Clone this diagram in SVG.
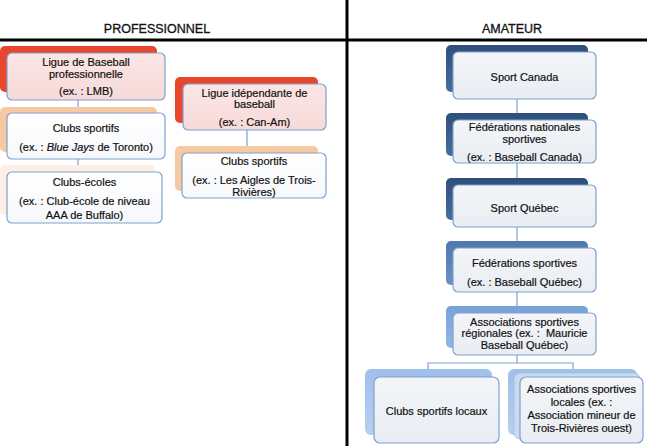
<svg xmlns="http://www.w3.org/2000/svg" width="647" height="446" viewBox="0 0 647 446">
<defs>
<linearGradient id="gPink" x1="0" y1="0" x2="0" y2="1"><stop offset="0" stop-color="#fbe6e5"/><stop offset="1" stop-color="#f6dad9"/></linearGradient>
<linearGradient id="gWhite" x1="0" y1="0" x2="0" y2="1"><stop offset="0" stop-color="#ffffff"/><stop offset="1" stop-color="#f6f8fb"/></linearGradient>
<linearGradient id="gGray" x1="0" y1="0" x2="0" y2="1"><stop offset="0" stop-color="#f3f5f8"/><stop offset="1" stop-color="#e9edf3"/></linearGradient>
<linearGradient id="gNavy" x1="0" y1="0" x2="0" y2="1"><stop offset="0" stop-color="#2f4f7b"/><stop offset="1" stop-color="#4a6d9b"/></linearGradient>
<linearGradient id="gMid" x1="0" y1="0" x2="0" y2="1"><stop offset="0" stop-color="#4f78ae"/><stop offset="1" stop-color="#6b90c2"/></linearGradient>
<linearGradient id="gLight" x1="0" y1="0" x2="0" y2="1"><stop offset="0" stop-color="#76a2da"/><stop offset="1" stop-color="#94b7e3"/></linearGradient>
<linearGradient id="gPale" x1="0" y1="0" x2="0" y2="1"><stop offset="0" stop-color="#9fc0ea"/><stop offset="1" stop-color="#b7cfee"/></linearGradient>
</defs>
<style>
.front{stroke:#7da1cf;stroke-width:1.2}
.red{fill:#e8472d}
.peach{fill:#f7c9a2}
.paleP{fill:#fdefe5}
.t{font-family:"Liberation Sans",Arial,sans-serif;font-size:11px;fill:#111;stroke:#111;stroke-width:0.2;text-anchor:middle}
.h{font-family:"Liberation Sans",Arial,sans-serif;font-size:12.5px;fill:#111;stroke:#111;stroke-width:0.3;text-anchor:middle}
.c{stroke:#7da1cf;stroke-width:1.2;fill:none}
.div{stroke:#000;stroke-width:3}
</style>
<rect width="647" height="446" fill="#ffffff"/>
<g id="dividers">
<line class="div" x1="0" y1="40" x2="647" y2="40"/>
<line class="div" x1="347" y1="0" x2="347" y2="446"/>
</g>
<g id="headers">
<text class="h" x="157" y="33">PROFESSIONNEL</text>
<text class="h" x="512" y="33">AMATEUR</text>
</g>
<g id="connectors">
<line class="c" x1="78" y1="100" x2="78" y2="107"/>
<line class="c" x1="78" y1="159" x2="78" y2="165"/>
<line class="c" x1="247" y1="130" x2="247" y2="146"/>
<line class="c" x1="517" y1="99" x2="517" y2="113"/>
<line class="c" x1="517" y1="163" x2="517" y2="178"/>
<line class="c" x1="517" y1="227" x2="517" y2="241"/>
<line class="c" x1="517" y1="292" x2="517" y2="306"/>
<polyline class="c" points="517,355 517,363"/>
<polyline class="c" points="428,369 428,363 573,363 573,369"/>
</g>
<g id="n1">
<rect class="red" x="0" y="46" width="157" height="46" rx="5"/>
<rect class="front" x="7" y="53" width="158" height="47" rx="5" fill="url(#gPink)"/>
<text class="t" x="86" y="66">Ligue de Baseball</text>
<text class="t" x="86" y="78">professionnelle</text>
<text class="t" x="86" y="95">(ex. : LMB)</text>
</g>
<g id="n2">
<rect class="peach" x="0" y="107" width="157" height="45" rx="5"/>
<rect class="front" x="7" y="113" width="158" height="46" rx="5" fill="url(#gWhite)"/>
<text class="t" x="86" y="132">Clubs sportifs</text>
<text class="t" x="86" y="151">(ex. : <tspan font-style="italic">Blue Jays</tspan> de Toronto)</text>
</g>
<g id="n3">
<rect class="paleP" x="0" y="165" width="155" height="50" rx="5"/>
<rect class="front" x="7" y="172" width="155" height="51" rx="5" fill="url(#gWhite)"/>
<text class="t" x="84.5" y="186">Clubs-écoles</text>
<text class="t" x="84.5" y="205">(ex. : Club-école de niveau</text>
<text class="t" x="84.5" y="219">AAA de Buffalo)</text>
</g>
<g id="n4">
<rect class="red" x="175" y="77" width="143" height="46" rx="5"/>
<rect class="front" x="183" y="84" width="143" height="46" rx="5" fill="url(#gPink)"/>
<text class="t" x="254.5" y="97">Ligue idépendante de</text>
<text class="t" x="254.5" y="108">baseball</text>
<text class="t" x="254.5" y="126">(ex. : Can-Am)</text>
</g>
<g id="n5">
<rect class="peach" x="175" y="146" width="143" height="45" rx="5"/>
<rect class="front" x="182" y="153" width="144" height="45" rx="5" fill="url(#gWhite)"/>
<text class="t" x="254" y="165">Clubs sportifs</text>
<text class="t" x="254" y="184">(ex. : Les Aigles de Trois-</text>
<text class="t" x="254" y="196">Rivières)</text>
</g>
<g id="a1">
<rect x="446" y="45" width="142" height="47" rx="5" fill="url(#gNavy)"/>
<rect class="front" x="453" y="52" width="143" height="47" rx="5" fill="url(#gGray)"/>
<text class="t" x="524.5" y="81">Sport Canada</text>
</g>
<g id="a2">
<rect x="446" y="113" width="142" height="43" rx="5" fill="url(#gNavy)"/>
<rect class="front" x="453" y="120" width="143" height="43" rx="5" fill="url(#gGray)"/>
<text class="t" x="524.5" y="131">Fédérations nationales</text>
<text class="t" x="524.5" y="143">sportives</text>
<text class="t" x="524.5" y="161">(ex. : Baseball Canada)</text>
</g>
<g id="a3">
<rect x="446" y="178" width="142" height="42" rx="5" fill="url(#gNavy)"/>
<rect class="front" x="453" y="185" width="143" height="42" rx="5" fill="url(#gGray)"/>
<text class="t" x="524.5" y="212">Sport Québec</text>
</g>
<g id="a4">
<rect x="446" y="241" width="142" height="44" rx="5" fill="url(#gMid)"/>
<rect class="front" x="453" y="248" width="143" height="44" rx="5" fill="url(#gGray)"/>
<text class="t" x="524.5" y="267">Fédérations sportives</text>
<text class="t" x="524.5" y="286">(ex. : Baseball Québec)</text>
</g>
<g id="a5">
<rect x="446" y="306" width="142" height="42" rx="5" fill="url(#gLight)"/>
<rect class="front" x="453" y="313" width="143" height="42" rx="5" fill="url(#gGray)"/>
<text class="t" x="524.5" y="325.5">Associations sportives</text>
<text class="t" x="524.5" y="337" xml:space="preserve">régionales (ex. :  Mauricie</text>
<text class="t" x="524.5" y="349">Baseball Québec)</text>
</g>
<g id="c1">
<rect x="365" y="369" width="127" height="66" rx="6" fill="url(#gPale)"/>
<rect class="front" x="374" y="377" width="125" height="66" rx="6" fill="url(#gGray)"/>
<text class="t" x="436.5" y="415">Clubs sportifs locaux</text>
</g>
<g id="c2">
<rect x="508" y="369" width="129" height="66" rx="6" fill="url(#gPale)"/>
<rect x="514" y="373" width="126" height="66" rx="6" fill="#c9daf1" stroke="#9fbce3" stroke-width="0.8"/>
<rect class="front" x="520" y="377" width="123" height="66" rx="6" fill="url(#gGray)"/>
<text class="t" x="581.5" y="393">Associations sportives</text>
<text class="t" x="581.5" y="406">locales (ex. :</text>
<text class="t" x="581.5" y="419">Association mineur de</text>
<text class="t" x="581.5" y="432">Trois-Rivières ouest)</text>
</g>
</svg>
